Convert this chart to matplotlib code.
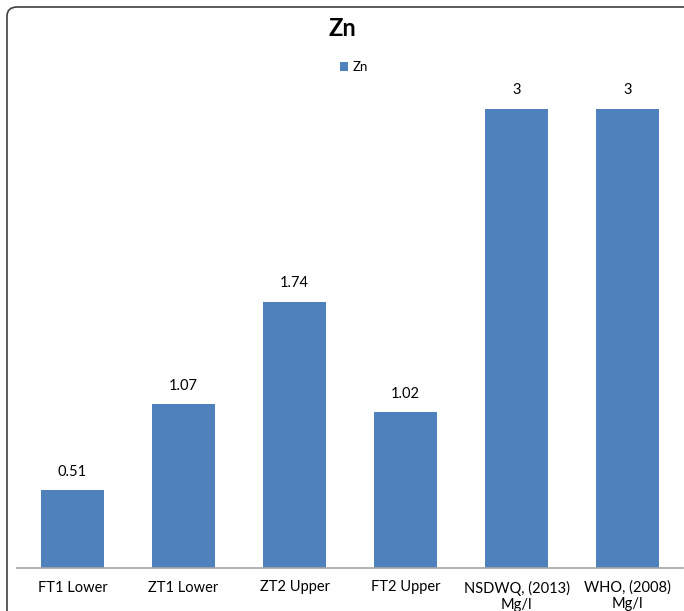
import matplotlib
matplotlib.use("Agg")
import matplotlib.pyplot as plt
from matplotlib.patches import FancyBboxPatch

categories = ["FT1 Lower", "ZT1 Lower", "ZT2 Upper", "FT2 Upper",
              "NSDWQ, (2013)\nMg/l", "WHO, (2008)\nMg/l"]
values = [0.51, 1.07, 1.74, 1.02, 3, 3]
value_labels = ["0.51", "1.07", "1.74", "1.02", "3", "3"]

plt.rcParams['font.family'] = ['Lato', 'DejaVu Sans']

fig = plt.figure(figsize=(6.84, 6.11), dpi=100)
border = FancyBboxPatch((7/684, -0.1), 1.2, 1 - 7/611 + 0.1,
                        boxstyle="round,pad=0,rounding_size=0.015",
                        transform=fig.transFigure, facecolor="white",
                        edgecolor="#404040", linewidth=1.2, zorder=-5)
fig.patches.append(border)

ax = fig.add_axes([17/684, 1 - 568/611, 666/684, (568 - 32)/611])
ax.set_facecolor("none")
ax.set_zorder(1)
x = range(len(categories))
bars = ax.bar(x, values, width=0.575, color="#4F81BD", label="Zn", zorder=2)
ax.set_xlim(-0.5, len(categories) - 0.5)
ax.set_ylim(0, 3.5)
for xi, v, lab in zip(x, values, value_labels):
    ax.annotate(lab, (xi, v), xytext=(0, 8), textcoords="offset points",
                ha="center", va="bottom", fontsize=10.5, color="#000000")
ax.set_xticks(list(x))
ax.set_xticklabels(categories, fontsize=10.5, linespacing=1.2)
ax.tick_params(axis="x", length=0, pad=9)
ax.set_yticks([])
for s in ["top", "right", "left"]:
    ax.spines[s].set_visible(False)
ax.spines["bottom"].set_color("#A6A6A6")
ax.spines["bottom"].set_linewidth(1.2)

fig.text(0.5, 1 - 28/611, "Zn", ha="center", va="center", fontsize=17,
         fontweight="bold")
leg = fig.legend(handles=[bars], labels=["Zn"], loc="center",
                 bbox_to_anchor=(354/684, 1 - 67/611), frameon=False,
                 fontsize=9.5, handlelength=0.6, handleheight=0.6,
                 handletextpad=0.3)

fig.savefig("out.png", dpi=100)
